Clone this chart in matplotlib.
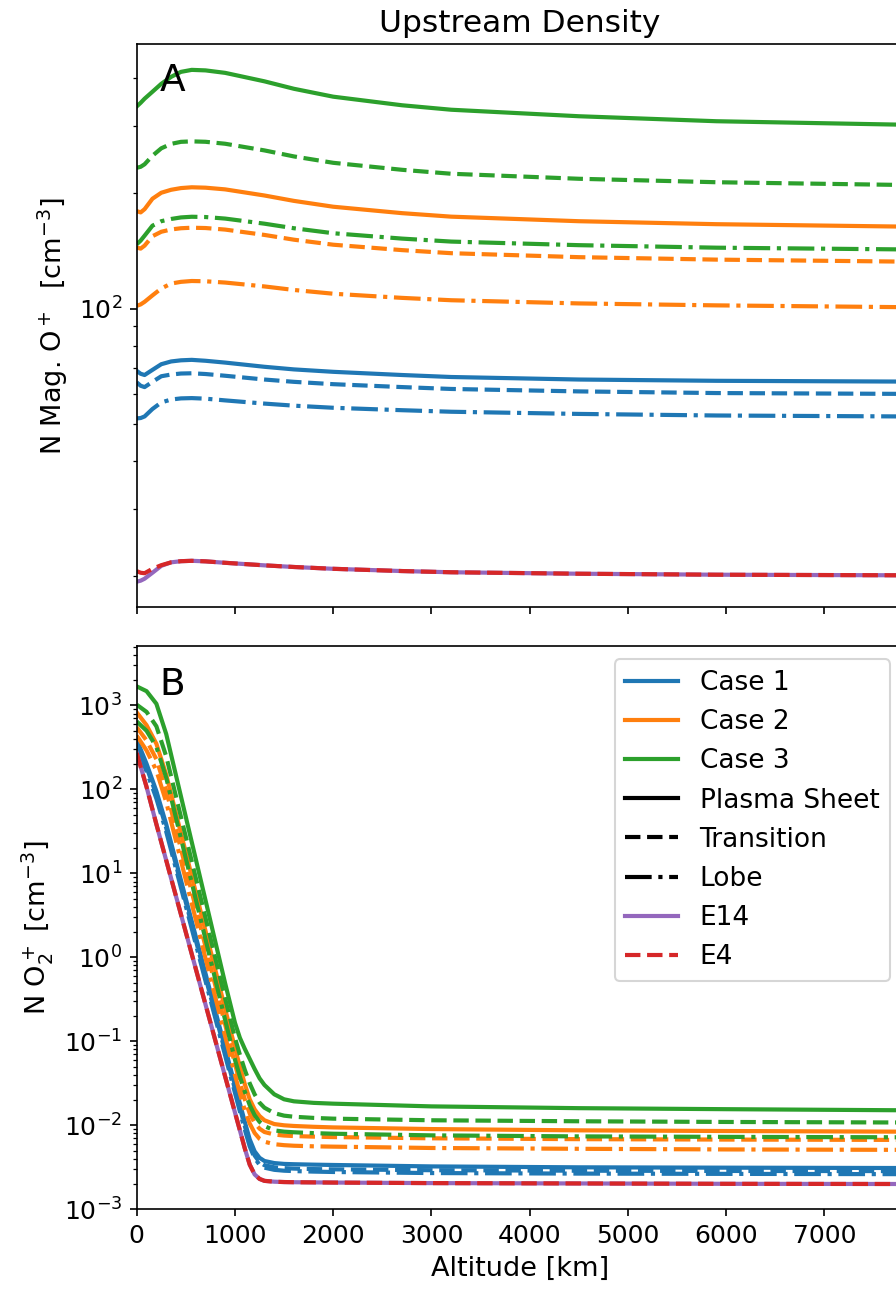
import matplotlib
matplotlib.use('Agg')
import matplotlib.pyplot as plt
from matplotlib.lines import Line2D

plt.rcParams['font.size'] = 12

# panel A: magnetospheric O+ density vs altitude
alt_a = [0, 40, 80, 160, 250, 350, 450, 560, 700, 900, 1300, 1600, 2000, 2700, 3200, 4500, 5900, 7800]
mag_c1_ps = [68.8, 67.6, 67.1, 69.2, 71.6, 72.8, 73.3, 73.5, 73.1, 72.3, 70.5, 69.4, 68.4, 67.1, 66.3, 65.3, 64.8, 64.5]
mag_c1_tr = [64.2, 62.9, 62.4, 64.4, 66.6, 67.3, 67.7, 67.8, 67.5, 66.8, 65.3, 64.4, 63.5, 62.4, 61.7, 60.8, 60.2, 59.9]
mag_c1_lb = [51.7, 51.8, 52.3, 54.7, 56.9, 57.9, 58.3, 58.4, 58.2, 57.6, 56.5, 55.8, 55.1, 54.3, 53.8, 53.1, 52.6, 52.3]
mag_c2_ps = [179.8, 178.4, 181.9, 193.7, 200.8, 204.4, 206.5, 207.5, 207.0, 204.9, 197.5, 191.2, 184.6, 177.6, 173.9, 169.2, 166.2, 163.8]
mag_c2_tr = [144.4, 143.5, 146.1, 154.6, 158.8, 161.0, 162.2, 162.7, 162.4, 160.9, 155.8, 151.4, 146.9, 142.2, 139.6, 136.3, 134.3, 132.7]
mag_c2_lb = [101.7, 102.6, 104.2, 108.3, 112.9, 116.3, 117.5, 118.1, 117.9, 117.0, 114.3, 111.9, 109.4, 106.7, 105.2, 103.2, 102.0, 100.9]
mag_c3_ps = [337.4, 344.9, 353.5, 368.6, 386.6, 403.1, 415.4, 420.4, 419.1, 412.9, 392.4, 375.2, 357.8, 339.8, 330.8, 318.1, 308.7, 302.3]
mag_c3_tr = [233.3, 234.7, 238.3, 250.8, 262.3, 269.4, 272.7, 273.5, 272.8, 269.6, 259.0, 249.8, 240.4, 230.5, 225.1, 218.4, 213.9, 210.4]
mag_c3_lb = [147.3, 150.6, 155.1, 164.7, 169.2, 171.5, 173.1, 173.8, 173.5, 171.9, 166.7, 162.2, 157.4, 152.4, 149.7, 146.5, 144.3, 142.8]
mag_e14 = [19.36, 19.48, 19.71, 20.43, 21.30, 21.75, 21.90, 21.95, 21.88, 21.69, 21.36, 21.15, 20.92, 20.64, 20.49, 20.31, 20.19, 20.12]
mag_e4 = [20.63, 20.43, 20.37, 20.92, 21.38, 21.75, 21.90, 21.95, 21.88, 21.69, 21.36, 21.15, 20.92, 20.64, 20.49, 20.31, 20.19, 20.12]

# panel B: O2+ density vs altitude
alt_b = [0, 100, 200, 300, 900, 1000, 1050, 1100, 1150, 1200, 1250, 1300, 1400, 1500, 1600, 1800, 2000, 3000, 4500, 6000, 7800]
o2_c1_ps = [391, 202, 95.5, 38.5, 0.083, 0.0299, 0.0182, 0.011, 0.0068, 0.0049, 0.0041, 0.00376, 0.00355, 0.00347, 0.00344, 0.0034, 0.00337, 0.00324, 0.00316, 0.00313, 0.0031]
o2_c1_tr = [355, 183, 86.7, 34.8, 0.075, 0.0269, 0.0161, 0.0098, 0.0060, 0.00437, 0.00363, 0.00335, 0.00316, 0.00309, 0.00305, 0.00301, 0.00299, 0.00292, 0.00288, 0.00286, 0.00285]
o2_c1_lb = [316, 164, 77.8, 31.4, 0.0676, 0.0243, 0.0146, 0.0089, 0.0056, 0.00407, 0.00339, 0.00313, 0.00295, 0.00288, 0.00285, 0.00281, 0.00278, 0.0027, 0.00266, 0.00264, 0.00262]
o2_c2_ps = [826, 582, 350, 150, 0.243, 0.0832, 0.0501, 0.0309, 0.0204, 0.0155, 0.0129, 0.01148, 0.01035, 0.0100, 0.00982, 0.0096, 0.00944, 0.00902, 0.00871, 0.00855, 0.0084]
o2_c2_tr = [550, 383, 229, 97.5, 0.158, 0.0537, 0.0324, 0.0204, 0.0138, 0.0107, 0.00912, 0.00832, 0.00776, 0.00755, 0.00745, 0.00733, 0.00724, 0.0070, 0.00684, 0.00676, 0.0067]
o2_c2_lb = [437, 291, 168, 70.8, 0.1146, 0.0398, 0.024, 0.0151, 0.0105, 0.0081, 0.0069, 0.00638, 0.00596, 0.0058, 0.00571, 0.00562, 0.00557, 0.00537, 0.00525, 0.00516, 0.0051]
o2_c3_ps = [1686, 1479, 1047, 457, 0.49, 0.166, 0.110, 0.0813, 0.0617, 0.0468, 0.0363, 0.0302, 0.0234, 0.0204, 0.0193, 0.0185, 0.0181, 0.0168, 0.0160, 0.01556, 0.0151]
o2_c3_tr = [1020, 838, 565, 248, 0.323, 0.1096, 0.0692, 0.0457, 0.0316, 0.0234, 0.0186, 0.0162, 0.01396, 0.01303, 0.01265, 0.01225, 0.0120, 0.01148, 0.01117, 0.01096, 0.0108]
o2_c3_lb = [645, 499, 321, 138, 0.1795, 0.0603, 0.038, 0.0251, 0.0174, 0.0132, 0.011, 0.0098, 0.0087, 0.0084, 0.00826, 0.00807, 0.00794, 0.00759, 0.00738, 0.00728, 0.0072]
o2_e14 = [271, 107, 38.5, 14.3, 0.0381, 0.0142, 0.0087, 0.0053, 0.0034, 0.0026, 0.0023, 0.00218, 0.00213, 0.00211, 0.0021, 0.00209, 0.00208, 0.00205, 0.00203, 0.00201, 0.00200]
o2_e4 = [271, 107, 38.5, 14.3, 0.0381, 0.0142, 0.0087, 0.0053, 0.0034, 0.0026, 0.0023, 0.00218, 0.00213, 0.00211, 0.0021, 0.00209, 0.00208, 0.00205, 0.00203, 0.00201, 0.00200]

case_labels = ['Case 1', 'Case 2', 'Case 3']
region_labels = ['Plasma Sheet', 'Transition', 'Lobe']
case_colors = ['C0', 'C1', 'C2']
region_styles = ['-', '--', '-.']

mag_cases = [[mag_c1_ps, mag_c1_tr, mag_c1_lb],
             [mag_c2_ps, mag_c2_tr, mag_c2_lb],
             [mag_c3_ps, mag_c3_tr, mag_c3_lb]]
o2_cases = [[o2_c1_ps, o2_c1_tr, o2_c1_lb],
            [o2_c2_ps, o2_c2_tr, o2_c2_lb],
            [o2_c3_ps, o2_c3_tr, o2_c3_lb]]

fig = plt.figure(figsize=(896 / 150, 1291 / 150), dpi=150)
ax1 = fig.add_axes([0.1526, 0.5296, 0.8553, 0.4361])
ax2 = fig.add_axes([0.1526, 0.0633, 0.8553, 0.4363], sharex=ax1)

lw = 2
for ax, alt, cases, e14, e4 in [(ax1, alt_a, mag_cases, mag_e14, mag_e4),
                                (ax2, alt_b, o2_cases, o2_e14, o2_e4)]:
    for c, col in enumerate(case_colors):
        for r, ls in enumerate(region_styles):
            ax.plot(alt, cases[c][r], color=col, ls=ls, lw=lw)
    ax.plot(alt, e14, color='C4', ls='-', lw=lw)
    ax.plot(alt, e4, color='C3', ls='--', lw=lw)
    ax.set_yscale('log')

ax1.set_xlim(0, 7800)
ax2.set_ylim(1e-3, 5.1e3)
ax1.tick_params(labelbottom=False)

ax1.set_title('Upstream Density', fontsize=15)
ax1.set_ylabel('N Mag. O$^+$  [cm$^{-3}$]', fontsize=13)
ax2.set_ylabel('N O$_2^+$ [cm$^{-3}$]', fontsize=13)
ax2.set_xlabel('Altitude [km]', fontsize=13)

ax1.text(0.03, 0.967, 'A', transform=ax1.transAxes, fontsize=18, va='top', ha='left')
ax2.text(0.03, 0.963, 'B', transform=ax2.transAxes, fontsize=18, va='top', ha='left')

handles = [Line2D([], [], color=col, lw=lw) for col in case_colors]
handles += [Line2D([], [], color='k', ls=ls, lw=lw) for ls in region_styles]
handles += [Line2D([], [], color='C4', ls='-', lw=lw), Line2D([], [], color='C3', ls='--', lw=lw)]
labels = case_labels + region_labels + ['E14', 'E4']
ax2.legend(handles, labels, loc='upper right', fontsize=12.7)

fig.savefig('out.png', dpi=150)
